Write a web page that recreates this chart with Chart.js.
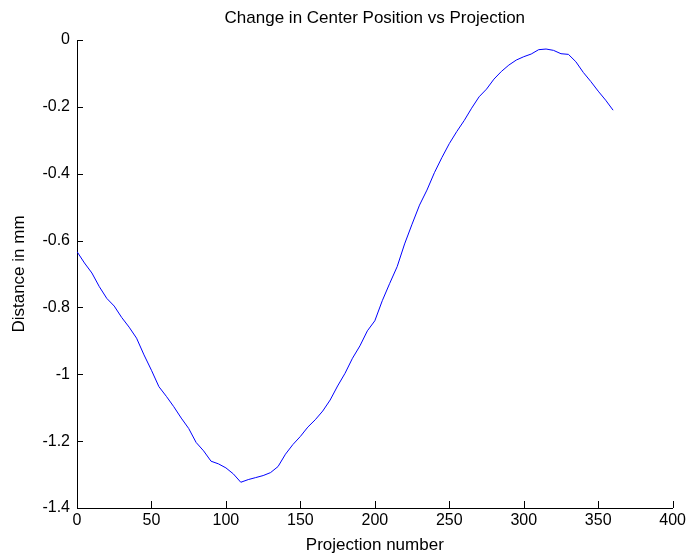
<!DOCTYPE html>
<html>
<head>
<meta charset="utf-8">
<title>Change in Center Position vs Projection</title>
<script src="https://cdn.jsdelivr.net/npm/chart.js@4.4.0/dist/chart.umd.min.js"></script>
<style>
  html, body { margin: 0; padding: 0; background: #ffffff; }
  #wrap { width: 689px; height: 558px; }
</style>
</head>
<body>
<div id="wrap"><canvas id="myChart" width="689" height="558"></canvas></div>
<script>
(() => {
  "use strict";

  // Data (every 5th projection)
  const projections = [
    0, 5, 10, 15, 20, 25, 30, 35, 40, 45, 50, 55, 60, 65, 70, 75, 80, 85, 90, 95,
    100, 105, 110, 115, 120, 125, 130, 135, 140, 145, 150, 155, 160, 165, 170, 175,
    180, 185, 190, 195, 200, 205, 210, 215, 220, 225, 230, 235, 240, 245, 250, 255,
    260, 265, 270, 275, 280, 285, 290, 295, 300, 305, 310, 315, 320, 325, 330, 335,
    340, 345, 350, 355, 360
  ];
  const distances = [
    -0.633, -0.667, -0.697, -0.738, -0.773, -0.796, -0.830, -0.859, -0.892, -0.942,
    -0.988, -1.037, -1.066, -1.097, -1.131, -1.162, -1.204, -1.229, -1.260, -1.268,
    -1.280, -1.298, -1.323, -1.315, -1.309, -1.303, -1.294, -1.276, -1.239, -1.210,
    -1.186, -1.158, -1.136, -1.110, -1.077, -1.035, -0.997, -0.952, -0.915, -0.870,
    -0.840, -0.780, -0.728, -0.678, -0.610, -0.551, -0.494, -0.449, -0.397, -0.352,
    -0.310, -0.274, -0.241, -0.204, -0.170, -0.147, -0.117, -0.094, -0.075, -0.060,
    -0.050, -0.042, -0.029, -0.027, -0.031, -0.041, -0.043, -0.065, -0.097, -0.124,
    -0.153, -0.180, -0.210
  ];
  const xTicks = [0, 50, 100, 150, 200, 250, 300, 350, 400];
  const yTicks = [0, -0.2, -0.4, -0.6, -0.8, -1, -1.2, -1.4];

  const chartTitle = "Change in Center Position vs Projection";
  const fontFamily = "'Liberation Sans', Arial, sans-serif";

  // Title centred over the plot area, MATLAB style
  const titlePlugin = {
    id: "plotTitle",
    afterDraw(chart) {
      const { ctx, chartArea } = chart;
      ctx.save();
      ctx.fillStyle = "#000";
      ctx.font = "17px " + fontFamily;
      ctx.textAlign = "center";
      ctx.textBaseline = "middle";
      ctx.fillText(chartTitle, (chartArea.left + chartArea.right) / 2, 18);
      ctx.restore();
    },
  };

  // Inward tick marks on the left and bottom axes
  const tickPlugin = {
    id: "inwardTicks",
    afterDraw(chart) {
      const { ctx, chartArea, scales } = chart;
      ctx.save();
      ctx.strokeStyle = "#000";
      ctx.lineWidth = 1;
      ctx.beginPath();
      xTicks.forEach((v) => {
        const px = Math.round(scales.x.getPixelForValue(v)) + 0.5;
        ctx.moveTo(px, chartArea.bottom);
        ctx.lineTo(px, chartArea.bottom - 7);
      });
      yTicks.forEach((v) => {
        const py = Math.round(scales.y.getPixelForValue(v)) + 0.5;
        ctx.moveTo(chartArea.left, py);
        ctx.lineTo(chartArea.left + 6, py);
      });
      ctx.stroke();
      ctx.restore();
    },
  };

  const points = projections.map((p, i) => ({ x: p, y: distances[i] }));

  const ctx = document.getElementById("myChart");
  new Chart(ctx, {
    type: "scatter",
    data: {
      datasets: [
        {
          data: points,
          showLine: true,
          borderColor: "#0000ff",
          borderWidth: 1,
          pointRadius: 0,
          tension: 0,
        },
      ],
    },
    options: {
      responsive: false,
      animation: false,
      layout: { padding: { top: 40, right: 16, left: 0, bottom: 0 } },
      plugins: {
        legend: { display: false },
        tooltip: { enabled: false },
      },
      scales: {
        x: {
          type: "linear",
          min: 0,
          max: 400,
          afterBuildTicks: (scale) => {
            scale.ticks = xTicks.map((v) => ({ value: v }));
          },
          afterFit: (scale) => {
            scale.height = 50;
          },
          ticks: {
            color: "#000",
            font: { family: fontFamily, size: 16 },
            padding: 3,
            maxRotation: 0,
          },
          grid: { drawOnChartArea: false, drawTicks: false, color: "transparent" },
          border: { display: true, color: "#000", width: 1 },
          title: {
            display: true,
            text: "Projection number",
            color: "#000",
            font: { family: fontFamily, size: 17 },
            padding: { top: 0, bottom: 2 },
          },
        },
        y: {
          type: "linear",
          min: -1.4,
          max: 0,
          afterBuildTicks: (scale) => {
            scale.ticks = yTicks.map((v) => ({ value: v }));
          },
          afterFit: (scale) => {
            scale.width = 77;
          },
          ticks: {
            color: "#000",
            font: { family: fontFamily, size: 16 },
            padding: 7,
            callback: (v) => String(Number(v.toFixed(1))),
          },
          grid: { drawOnChartArea: false, drawTicks: false, color: "transparent" },
          border: { display: true, color: "#000", width: 1 },
          title: {
            display: true,
            text: "Distance in mm",
            color: "#000",
            font: { family: fontFamily, size: 17 },
            padding: { top: 9, bottom: 0 },
          },
        },
      },
    },
    plugins: [titlePlugin, tickPlugin],
  });
})();
</script>
</body>
</html>
